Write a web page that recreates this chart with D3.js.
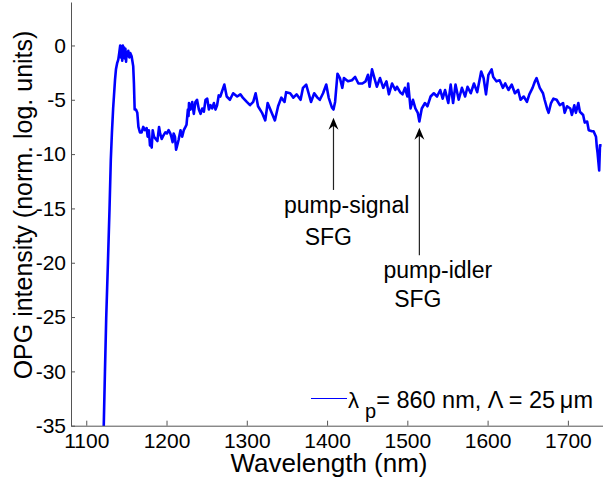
<!DOCTYPE html>
<html>
<head>
<meta charset="utf-8">
<script src="https://cdn.jsdelivr.net/npm/d3@7"></script>
<style>
  body { margin: 0; background: #fff; }
  svg { display: block; font-family: "Liberation Sans", Arial, sans-serif; }
</style>
</head>
<body>
<svg id="chart" width="603" height="489"></svg>
<script>
// spectrum
const wavelength = [
  1121.5, 1123.3, 1124.9, 1127.0, 1129.0, 1130.6, 1132.0, 1133.5, 1135.8, 1137.0,
  1138.6, 1139.9, 1141.1, 1142.3, 1143.2, 1144.0, 1144.8, 1145.6, 1146.4, 1147.2,
  1148.0, 1148.8, 1149.6, 1150.4, 1151.4, 1152.4, 1153.6, 1154.8, 1156.5, 1158.5,
  1159.4, 1160.3, 1161.9, 1163.6, 1165.0, 1166.9, 1169.0, 1171.0, 1173.0, 1175.2,
  1176.5, 1178.0, 1179.4, 1180.6, 1181.5, 1182.8, 1184.4, 1186.5, 1188.6, 1190.7,
  1192.0, 1194.0, 1196.0, 1198.5, 1200.5, 1202.6, 1204.7, 1206.0, 1207.6, 1208.9,
  1210.5, 1211.9, 1213.0, 1215.0, 1217.4, 1219.5, 1221.5, 1223.6, 1224.9, 1226.6,
  1227.4, 1228.0, 1229.9, 1232.0, 1234.0, 1236.0, 1238.0, 1240.3, 1242.4, 1244.5,
  1246.5, 1248.6, 1250.7, 1252.8, 1254.8, 1256.9, 1259.0, 1261.0, 1263.0, 1265.0,
  1267, 1272, 1275, 1279, 1283, 1288, 1292, 1295, 1300, 1304,
  1308, 1311, 1314, 1319, 1323, 1326, 1331, 1335, 1339, 1343,
  1347, 1349, 1354, 1358, 1362, 1367, 1370, 1374, 1377, 1380,
  1384, 1388, 1391, 1395, 1399, 1402, 1406, 1408, 1410, 1413,
  1416, 1419, 1421, 1426, 1431, 1435, 1439, 1444, 1448, 1451,
  1453, 1456, 1459, 1462, 1466, 1470, 1474, 1477, 1481, 1485,
  1487, 1491, 1494, 1497, 1500, 1501, 1504, 1507, 1510, 1513,
  1515, 1518, 1522, 1525, 1529, 1533, 1537, 1541, 1544, 1547,
  1551, 1554, 1557, 1560, 1564, 1568, 1572, 1575, 1579, 1583,
  1587, 1592, 1595, 1598, 1601, 1605, 1607, 1611, 1615, 1619,
  1622, 1626, 1630, 1634, 1638, 1641, 1645, 1649, 1652, 1656,
  1659, 1661, 1665, 1669, 1671, 1674, 1676, 1679, 1682, 1686,
  1690, 1694, 1696, 1699, 1703, 1705, 1708, 1710, 1713, 1715,
  1719, 1721, 1724, 1726, 1730, 1732, 1735, 1736, 1737, 1739,
  1740, 1742
];
const intensity = [
  -36, -30, -25, -20, -15, -10.5, -8.0, -5.8, -3.2, -2.2,
  -1.6, -1.3, -0.7, 0.0, -1.1, -0.1, -1.4, 0.0, -1.0, -0.2,
  -1.2, -0.3, -1.5, -0.6, -1.0, -0.5, -1.1, -0.7, -1.0, -1.9,
  -3.5, -5.9, -5.9, -6.2, -7.5, -8.0, -8.0, -7.5, -7.8, -7.6,
  -8.4, -7.8, -9.2, -8.8, -9.4, -7.8, -8.4, -8.6, -8.8, -7.5,
  -8.1, -8.6, -8.3, -8.0, -8.1, -7.8, -8.1, -8.4, -8.9, -8.1,
  -8.4, -9.6, -9.3, -8.7, -7.8, -8.4, -7.8, -7.5, -7.3, -5.9,
  -6.5, -5.3, -5.9, -5.2, -6.3, -5.2, -5.0, -5.9, -6.3, -5.8,
  -6.1, -5.0, -4.9, -5.9, -5.5, -5.8, -5.3, -5.9, -5.5, -4.6,
  -4.7, -3.6, -4.7, -5.0, -4.4, -4.7, -4.5, -4.8, -5.2, -5.5,
  -5.2, -4.4, -5.6, -6.2, -6.9, -5.3, -6.2, -6.9, -5.6, -4.8,
  -5.2, -4.3, -4.4, -4.8, -4.5, -5.0, -3.9, -3.6, -4.4, -5.2,
  -4.4, -4.8, -5.0, -4.4, -3.6, -4.8, -5.7, -5.9, -5.2, -2.6,
  -3.0, -3.9, -3.0, -3.3, -3.2, -2.9, -3.5, -3.5, -3.3, -2.7,
  -3.8, -2.2, -3.0, -3.8, -3.0, -3.9, -3.3, -4.5, -3.5, -4.1,
  -3.8, -4.3, -4.5, -3.9, -4.7, -3.5, -5.8, -5.0, -5.8, -6.2,
  -7.0, -5.8, -5.3, -5.6, -4.7, -4.4, -4.7, -4.1, -4.9, -4.1,
  -5.3, -3.6, -5.3, -3.6, -5.0, -3.9, -4.7, -3.8, -4.4, -3.5,
  -4.3, -2.4, -3.0, -4.5, -2.7, -2.2, -2.9, -3.3, -3.2, -3.9,
  -3.5, -4.1, -3.6, -4.4, -4.1, -5.0, -4.7, -5.2, -4.5, -3.9,
  -3.3, -3.0, -3.9, -4.4, -5.0, -5.8, -6.2, -5.3, -4.9, -5.0,
  -5.5, -5.3, -6.2, -5.6, -5.8, -6.4, -5.5, -6.2, -5.3, -6.1,
  -6.4, -7.1, -7.0, -7.8, -7.9, -7.9, -8.4, -9.3, -9.9, -11.5,
  -9.2, -9.2
];

const xTicks = [1100, 1200, 1300, 1400, 1500, 1600, 1700];
const yTicks = [0, -5, -10, -15, -20, -25, -30, -35];

// annotation arrows: tip and tail in data units
const arrowX = [1408, 1515];
const arrowTip = [-6.66, -7.58];
const arrowTail = [-13.3, -19.3];
// annotation texts
const noteText = ["pump-signal", "SFG", "pump-idler", "SFG"];
const noteX = [1424.4, 1401.5, 1538, 1513];
const noteY = [-15.4, -18.4, -21.4, -24.1];

const svg = d3.select("#chart");

const x = d3.scaleLinear().domain([1081, 1745]).range([71, 604]);
const y = d3.scaleLinear().domain([-35, 4]).range([425.7, 2]);

svg.append("defs").append("clipPath")
    .attr("id", "plotclip")
    .append("rect")
    .attr("x", 71).attr("y", 2)
    .attr("width", 533).attr("height", 424);

const pts = wavelength.map((w, i) => ({ w: w, v: intensity[i] }));

const line = d3.line()
    .x(d => x(d.w))
    .y(d => y(d.v));

svg.append("path")
    .datum(pts)
    .attr("clip-path", "url(#plotclip)")
    .attr("fill", "none")
    .attr("stroke", "#0000ff")
    .attr("stroke-width", 2.6)
    .attr("stroke-linejoin", "round")
    .attr("d", line);

// axes, ticks pointing inward like matlab
const xAxis = svg.append("g")
    .attr("transform", "translate(0," + y(-35) + ")")
    .call(d3.axisBottom(x).tickValues(xTicks).tickFormat(d => String(d))
        .tickSizeInner(-5).tickSizeOuter(0).tickPadding(7));

const yAxis = svg.append("g")
    .attr("transform", "translate(" + x(1081) + ",0)")
    .call(d3.axisLeft(y).tickValues(yTicks).tickFormat(d => String(d))
        .tickSizeInner(-4).tickSizeOuter(0).tickPadding(5));

[xAxis, yAxis].forEach(g => {
    g.select(".domain").attr("stroke", "#555");
    g.selectAll(".tick line").attr("stroke", "#555");
    g.selectAll(".tick text")
        .attr("fill", "#000")
        .style("font-size", "21px")
        .style("font-family", "'Liberation Sans', Arial, sans-serif");
});

svg.append("text")
    .attr("x", 329)
    .attr("y", 472)
    .attr("text-anchor", "middle")
    .style("font-size", "26px")
    .text("Wavelength (nm)");

svg.append("text")
    .attr("transform", "translate(23,205) rotate(-90)")
    .attr("text-anchor", "middle")
    .attr("dy", "0.35em")
    .style("font-size", "25px")
    .text("OPG intensity (norm. log. units)");

// arrows
arrowX.forEach((a, i) => {
    const ax = x(a);
    svg.append("line")
        .attr("x1", ax).attr("x2", ax)
        .attr("y1", y(arrowTip[i]) + 4).attr("y2", y(arrowTail[i]))
        .attr("stroke", "#222")
        .attr("stroke-width", 1.2);
    const ty = y(arrowTip[i]);
    svg.append("path")
        .attr("d", `M${ax},${ty} L${ax - 5},${ty + 12} L${ax},${ty + 8} L${ax + 5},${ty + 12} Z`)
        .attr("fill", "#000");
});

noteText.forEach((t, i) => {
    svg.append("text")
        .attr("x", x(noteX[i]))
        .attr("y", y(noteY[i]))
        .attr("text-anchor", "middle")
        .style("font-size", "23px")
        .text(t);
});

// legend
svg.append("line")
    .attr("x1", 311).attr("x2", 347)
    .attr("y1", 398.5).attr("y2", 398.5)
    .attr("stroke", "#0000ff")
    .attr("stroke-width", 1);

const leg = svg.append("text")
    .attr("x", 348)
    .attr("y", 408)
    .style("font-size", "22px");
leg.append("tspan").text("λ");
leg.append("tspan").attr("dx", 6).attr("dy", 10).style("font-size", "20px").text("p");
leg.append("tspan").attr("dy", -10).style("font-size", "23.5px").text("= 860 nm, Λ = 25\u2009μm");
</script>
</body>
</html>
